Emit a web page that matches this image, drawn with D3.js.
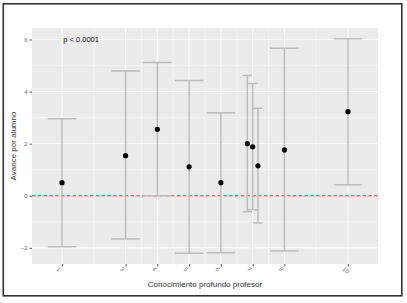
<!DOCTYPE html>
<html>
<head>
<meta charset="utf-8">
<script src="https://cdn.jsdelivr.net/npm/d3@7"></script>
<style>
    body { margin: 0; background: #fff; }
    svg { display: block; font-family: "Liberation Sans", Arial, sans-serif; }
    .frame { fill: none; stroke: #333; stroke-width: 1.6; }
    .panel-bg { fill: #ebebeb; }
    .grid line { stroke: #fff; }
    .grid .major { stroke-width: 0.9; }
    .grid .minor { stroke-width: 0.45; }
    .axis path { display: none; }
    .axis line { stroke: #555; }
    .axis text { fill: #666; font-size: 6px; }
    .title { fill: #333; font-size: 8px; }
    .zero-line { stroke: #e46f70; stroke-width: 1.4; stroke-dasharray: 3.4 2.4; }
    .errbar { stroke: #bdbdbd; stroke-width: 1.5; fill: none; }
    .dot { fill: #000; }
    .pval { fill: #111; font-size: 7.5px; }
</style>
</head>
<body>
<svg id="chart" width="407" height="303"></svg>
<script>
    // values
    const knowledge = [1, 3, 4, 5, 6, 7, 7, 7, 8, 10];
    const meanGain  = [0.50, 1.54, 2.55, 1.11, 0.50, 2.00, 1.88, 1.15, 1.76, 3.23];
    const lowerCI   = [-1.96, -1.66, 0.00, -2.21, -2.19, -0.62, -0.54, -1.05, -2.12, 0.42];
    const upperCI   = [2.96, 4.79, 5.12, 4.43, 3.19, 4.62, 4.31, 3.36, 5.66, 6.03];
    const xBreaks = [1, 3, 4, 5, 6, 7, 8, 10];
    const yBreaks = [-2, 0, 2, 4, 6];
    const pLabel = "p < 0.0001";

    const svg = d3.select("#chart");
    const margin = {top: 28, right: 29, bottom: 39, left: 32};
    const width = 407 - margin.left - margin.right;
    const height = 303 - margin.top - margin.bottom;

    svg.append("rect").attr("class", "frame")
        .attr("x", 3.3).attr("y", 3.8).attr("width", 398.5).attr("height", 292);

    const chart = svg.append("g")
        .attr("transform", "translate(" + margin.left + "," + margin.top + ")");

    // dodge entries sharing the same x (position_dodge 0.5, errorbar width 0.9/n)
    let rows = knowledge.map((k, i) => ({k: k, mean: meanGain[i], lo: lowerCI[i], hi: upperCI[i]}));
    let groups = d3.group(rows, d => d.k);
    groups.forEach(g => {
        g.forEach((d, j) => {
            d.x = d.k + (j - (g.length - 1) / 2) * 0.5 / g.length;
            d.w = 0.9 / g.length;
        });
    });

    const xLo = d3.min(rows, d => d.x - d.w / 2), xHi = d3.max(rows, d => d.x + d.w / 2);
    const yLo = d3.min(rows, d => d.lo), yHi = d3.max(rows, d => d.hi);
    const xPad = (xHi - xLo) * 0.05, yPad = (yHi - yLo) * 0.05;

    const x = d3.scaleLinear().domain([xLo - xPad, xHi + xPad]).range([0, width]);
    const y = d3.scaleLinear().domain([yLo - yPad, yHi + yPad]).range([height, 0]);

    chart.append("rect").attr("class", "panel-bg").attr("width", width).attr("height", height);

    // grid: minor between majors, like ggplot
    const xMinor = d3.pairs(xBreaks).map(p => (p[0] + p[1]) / 2);
    const yMinor = d3.pairs(yBreaks).map(p => (p[0] + p[1]) / 2);
    const grid = chart.append("g").attr("class", "grid");
    grid.selectAll("line.xm").data(xMinor).enter().append("line").attr("class", "minor xm")
        .attr("x1", d => x(d)).attr("x2", d => x(d)).attr("y1", 0).attr("y2", height);
    grid.selectAll("line.ym").data(yMinor).enter().append("line").attr("class", "minor ym")
        .attr("y1", d => y(d)).attr("y2", d => y(d)).attr("x1", 0).attr("x2", width);
    grid.selectAll("line.xM").data(xBreaks).enter().append("line").attr("class", "major xM")
        .attr("x1", d => x(d)).attr("x2", d => x(d)).attr("y1", 0).attr("y2", height);
    grid.selectAll("line.yM").data(yBreaks).enter().append("line").attr("class", "major yM")
        .attr("y1", d => y(d)).attr("y2", d => y(d)).attr("x1", 0).attr("x2", width);

    // axes
    const xAxis = chart.append("g").attr("class", "x axis")
        .attr("transform", "translate(0," + height + ")")
        .call(d3.axisBottom(x).tickValues(xBreaks).tickSize(2.5).tickPadding(2).tickFormat(d3.format("d")));
    xAxis.selectAll("text")
        .attr("text-anchor", "start")
        .attr("dy", "0.3em")
        .attr("transform", "translate(-2,1) rotate(45)");

    chart.append("g").attr("class", "y axis")
        .call(d3.axisLeft(y).tickValues(yBreaks).tickSize(2.5).tickPadding(2).tickFormat(d3.format("d")));

    // reference line at zero
    chart.append("line").attr("class", "zero-line")
        .attr("x1", 0).attr("x2", width).attr("y1", y(0)).attr("y2", y(0));

    // error bars
    chart.append("g").selectAll("path").data(rows).enter().append("path")
        .attr("class", "errbar")
        .attr("d", d => {
            const a = x(d.x - d.w / 2), b = x(d.x + d.w / 2), c = x(d.x);
            return "M" + a + "," + y(d.hi) + "H" + b +
                   "M" + c + "," + y(d.hi) + "V" + y(d.lo) +
                   "M" + a + "," + y(d.lo) + "H" + b;
        });

    chart.append("g").selectAll("circle").data(rows).enter().append("circle")
        .attr("class", "dot").attr("r", 2.6)
        .attr("cx", d => x(d.x)).attr("cy", d => y(d.mean));

    chart.append("text").attr("class", "pval")
        .attr("x", x(1.6)).attr("y", y(6)).attr("dy", "0.35em")
        .attr("text-anchor", "middle").text(pLabel);

    // titles
    chart.append("text").attr("class", "title")
        .attr("x", width / 2).attr("y", height + 23)
        .attr("text-anchor", "middle").text("Conocimiento profundo profesor");
    chart.append("text").attr("class", "title")
        .attr("transform", "translate(-16," + (height / 2) + ") rotate(-90)")
        .attr("text-anchor", "middle").text("Avance por alumno");
</script>
</body>
</html>
